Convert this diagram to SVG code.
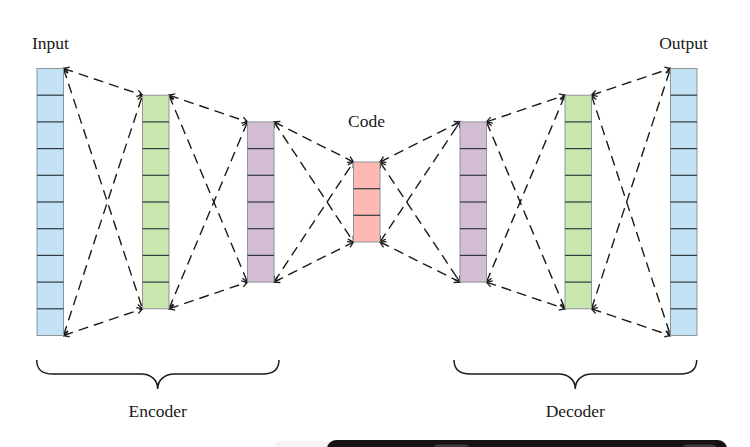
<svg xmlns="http://www.w3.org/2000/svg" width="750" height="447" viewBox="0 0 750 447">
<style>
.lbl{font-family:"Liberation Serif","DejaVu Serif",serif;font-size:17.5px;fill:#1a1a1a;text-anchor:middle}
.col{stroke:#8f9599;stroke-width:1}
.div{stroke:#2e3a40;stroke-width:1.2}
.blue{fill:#c4e2f5}
.green{fill:#c8e6ae}
.purple{fill:#d3bdd5}
.code{fill:#fcbab2}
.edge{fill:none;stroke:#1a1a1a;stroke-width:1.4;stroke-dasharray:10 6;marker-start:url(#ah);marker-end:url(#ah)}
.brace{fill:none;stroke:#1a1a1a;stroke-width:1.5}
</style>
<defs>
<marker id="ah" markerUnits="userSpaceOnUse" markerWidth="12" markerHeight="12" viewBox="-8 -6 10 12" refX="0" refY="0" orient="auto-start-reverse">
<path d="M -5.5 -3.2 L 0 0 L -5.5 3.2" fill="none" stroke="#1a1a1a" stroke-width="1.3"/>
</marker>
</defs>
<rect width="750" height="447" fill="#ffffff"/>

<g id="connectors">
<line class="edge" x1="63.5" y1="68.5" x2="142.5" y2="95.2"/>
<line class="edge" x1="63.5" y1="68.5" x2="142.5" y2="308.8"/>
<line class="edge" x1="63.5" y1="335.5" x2="142.5" y2="95.2"/>
<line class="edge" x1="63.5" y1="335.5" x2="142.5" y2="308.8"/>
<line class="edge" x1="169" y1="95.2" x2="247.5" y2="121.9"/>
<line class="edge" x1="169" y1="95.2" x2="247.5" y2="282.1"/>
<line class="edge" x1="169" y1="308.8" x2="247.5" y2="121.9"/>
<line class="edge" x1="169" y1="308.8" x2="247.5" y2="282.1"/>
<line class="edge" x1="274" y1="121.9" x2="353.5" y2="162"/>
<line class="edge" x1="274" y1="121.9" x2="353.5" y2="242"/>
<line class="edge" x1="274" y1="282.1" x2="353.5" y2="162"/>
<line class="edge" x1="274" y1="282.1" x2="353.5" y2="242"/>
<line class="edge" x1="380" y1="162" x2="460" y2="121.9"/>
<line class="edge" x1="380" y1="162" x2="460" y2="282.1"/>
<line class="edge" x1="380" y1="242" x2="460" y2="121.9"/>
<line class="edge" x1="380" y1="242" x2="460" y2="282.1"/>
<line class="edge" x1="486.5" y1="121.9" x2="565" y2="95.2"/>
<line class="edge" x1="486.5" y1="121.9" x2="565" y2="308.8"/>
<line class="edge" x1="486.5" y1="282.1" x2="565" y2="95.2"/>
<line class="edge" x1="486.5" y1="282.1" x2="565" y2="308.8"/>
<line class="edge" x1="591.5" y1="95.2" x2="670.5" y2="68.5"/>
<line class="edge" x1="591.5" y1="95.2" x2="670.5" y2="335.5"/>
<line class="edge" x1="591.5" y1="308.8" x2="670.5" y2="68.5"/>
<line class="edge" x1="591.5" y1="308.8" x2="670.5" y2="335.5"/>
</g>

<g id="input-layer">
<rect class="col blue" x="37" y="68.5" width="26.5" height="267"/>
<g class="div">
<line x1="37" y1="95.2" x2="63.5" y2="95.2"/>
<line x1="37" y1="121.9" x2="63.5" y2="121.9"/>
<line x1="37" y1="148.6" x2="63.5" y2="148.6"/>
<line x1="37" y1="175.3" x2="63.5" y2="175.3"/>
<line x1="37" y1="202" x2="63.5" y2="202"/>
<line x1="37" y1="228.7" x2="63.5" y2="228.7"/>
<line x1="37" y1="255.4" x2="63.5" y2="255.4"/>
<line x1="37" y1="282.1" x2="63.5" y2="282.1"/>
<line x1="37" y1="308.8" x2="63.5" y2="308.8"/>
</g>
<text class="lbl" x="50.5" y="48.5">Input</text>
</g>

<g id="encoder-hidden-1">
<rect class="col green" x="142.5" y="95.2" width="26.5" height="213.6"/>
<g class="div">
<line x1="142.5" y1="121.9" x2="169" y2="121.9"/>
<line x1="142.5" y1="148.6" x2="169" y2="148.6"/>
<line x1="142.5" y1="175.3" x2="169" y2="175.3"/>
<line x1="142.5" y1="202" x2="169" y2="202"/>
<line x1="142.5" y1="228.7" x2="169" y2="228.7"/>
<line x1="142.5" y1="255.4" x2="169" y2="255.4"/>
<line x1="142.5" y1="282.1" x2="169" y2="282.1"/>
</g>
</g>

<g id="encoder-hidden-2">
<rect class="col purple" x="247.5" y="121.9" width="26.5" height="160.2"/>
<g class="div">
<line x1="247.5" y1="148.6" x2="274" y2="148.6"/>
<line x1="247.5" y1="175.3" x2="274" y2="175.3"/>
<line x1="247.5" y1="202" x2="274" y2="202"/>
<line x1="247.5" y1="228.7" x2="274" y2="228.7"/>
<line x1="247.5" y1="255.4" x2="274" y2="255.4"/>
</g>
</g>

<g id="code-layer">
<rect class="col code" x="353.5" y="162" width="26.5" height="80"/>
<g class="div">
<line x1="353.5" y1="188.7" x2="380" y2="188.7"/>
<line x1="353.5" y1="215.3" x2="380" y2="215.3"/>
</g>
<text class="lbl" x="366.5" y="127">Code</text>
</g>

<g id="decoder-hidden-1">
<rect class="col purple" x="460" y="121.9" width="26.5" height="160.2"/>
<g class="div">
<line x1="460" y1="148.6" x2="486.5" y2="148.6"/>
<line x1="460" y1="175.3" x2="486.5" y2="175.3"/>
<line x1="460" y1="202" x2="486.5" y2="202"/>
<line x1="460" y1="228.7" x2="486.5" y2="228.7"/>
<line x1="460" y1="255.4" x2="486.5" y2="255.4"/>
</g>
</g>

<g id="decoder-hidden-2">
<rect class="col green" x="565" y="95.2" width="26.5" height="213.6"/>
<g class="div">
<line x1="565" y1="121.9" x2="591.5" y2="121.9"/>
<line x1="565" y1="148.6" x2="591.5" y2="148.6"/>
<line x1="565" y1="175.3" x2="591.5" y2="175.3"/>
<line x1="565" y1="202" x2="591.5" y2="202"/>
<line x1="565" y1="228.7" x2="591.5" y2="228.7"/>
<line x1="565" y1="255.4" x2="591.5" y2="255.4"/>
<line x1="565" y1="282.1" x2="591.5" y2="282.1"/>
</g>
</g>

<g id="output-layer">
<rect class="col blue" x="670.5" y="68.5" width="26.5" height="267"/>
<g class="div">
<line x1="670.5" y1="95.2" x2="697" y2="95.2"/>
<line x1="670.5" y1="121.9" x2="697" y2="121.9"/>
<line x1="670.5" y1="148.6" x2="697" y2="148.6"/>
<line x1="670.5" y1="175.3" x2="697" y2="175.3"/>
<line x1="670.5" y1="202" x2="697" y2="202"/>
<line x1="670.5" y1="228.7" x2="697" y2="228.7"/>
<line x1="670.5" y1="255.4" x2="697" y2="255.4"/>
<line x1="670.5" y1="282.1" x2="697" y2="282.1"/>
<line x1="670.5" y1="308.8" x2="697" y2="308.8"/>
</g>
<text class="lbl" x="683.5" y="48.5">Output</text>
</g>

<g id="encoder-brace">
<path class="brace" d="M 36.7 360 C 36.7 370 42 374 53 374 L 141 374 C 151 374 157.7 380 157.7 389 C 157.7 380 164.5 374 174.5 374 L 262.5 374 C 273.5 374 279 370 279 360"/>
<text class="lbl" x="157.7" y="417.3">Encoder</text>
</g>

<g id="decoder-brace">
<path class="brace" d="M 454 360 C 454 370 459.5 374 470.5 374 L 558.5 374 C 568.5 374 575.3 380 575.3 389 C 575.3 380 582 374 592 374 L 680 374 C 691 374 696.7 370 696.7 360"/>
<text class="lbl" x="575.3" y="417.3">Decoder</text>
</g>

<g id="screen-edge">
<rect x="272" y="441" width="80" height="20" rx="10" fill="#f3f3f3"/>
<rect x="327" y="440" width="400" height="20" rx="9" fill="#141414"/>
<rect x="433" y="444.5" width="37" height="10" rx="5" fill="#3a3a3a"/>
<rect x="682" y="444.5" width="35" height="10" rx="5" fill="#3a3a3a"/>
</g>
</svg>
